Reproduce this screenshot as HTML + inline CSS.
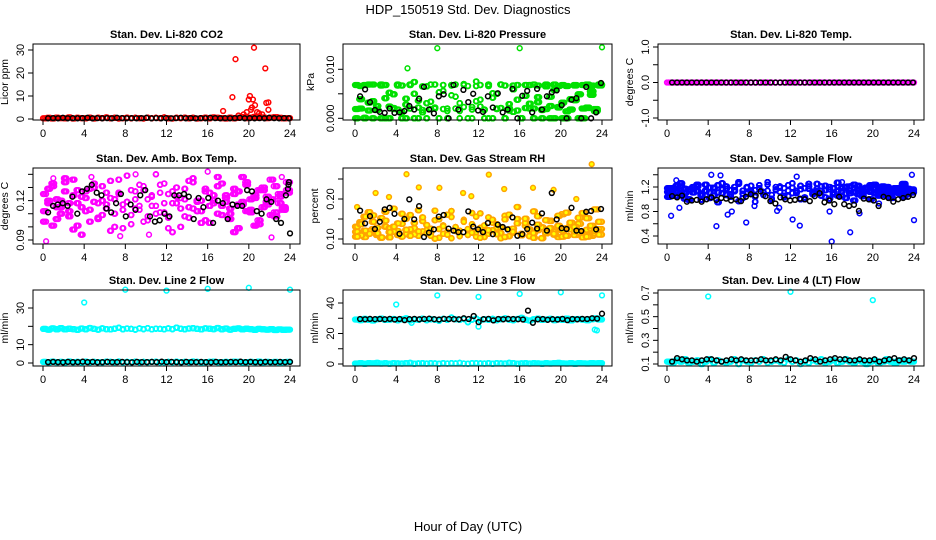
<!DOCTYPE html>
<html><head><meta charset="utf-8"><style>
html,body{margin:0;padding:0;background:#fff}
svg{display:block;font-family:"Liberation Sans",sans-serif}
</style></head><body>
<svg id="chart" width="936" height="540" viewBox="0 0 936 540" xmlns="http://www.w3.org/2000/svg">
<text x="468" y="14" text-anchor="middle" font-size="13">HDP_150519  Std. Dev. Diagnostics</text>
<text x="468" y="531" text-anchor="middle" font-size="13">Hour of Day (UTC)</text>
</svg>
<script>
// ---------- DATA ----------
const xTicks=[0,4,8,12,16,20,24];
// P1 CO2 (ppm)
const co2Red=[0.3,0.5,0.2,0.6,0.4,0.3,0.7,0.2,0.5,0.4,0.3,0.6,0.2,0.5,0.4,0.7,0.3,0.5,0.2,0.4,0.6,0.3,0.5,0.4,0.2,0.6,0.3,0.5,0.4,0.7,0.3,0.2,0.5,0.4,0.6,0.3,0.5,0.2,0.4,0.6,0.3,0.7,0.5,0.4,0.2,0.6,0.3,0.5,0.8,0.4,0.6,0.9,0.5,0.7,0.4,0.6,0.8,0.5,0.3,0.4];
const co2RedSpikeT=[17.5,18.4,18.7,19.0,19.5,19.8,20.0,20.1,20.2,20.3,20.4,20.5,20.6,20.8,21.0,21.3,21.6,21.7,21.9,21.9];
const co2RedSpikeV=[3.5,9.5,26,1.5,2,3,8.5,10,4,5,8.5,31,6,3,2.5,2,22,7,7.2,4];
const co2Black=[0.3,0.4,0.3,0.5,0.3,0.4,0.3,0.4,0.5,0.3,0.4,0.3,0.4,0.3,0.5,0.4,0.3,0.4,0.3,0.4,0.5,0.3,0.4,0.3,0.4,0.3,0.4,0.5,0.3,0.4,0.3,0.4,0.3,0.5,0.4,0.3,0.4,0.3,0.4,0.5,0.3,0.4,0.3,0.4,0.3,0.5,0.4,0.3,0.4,0.3];
// P2 Pressure (1e-3 kPa)
const presG1=[6.8,2.0,0.1,6.9,3.5,1.8,6.7,0.0,5.2,2.1,6.9,1.2,4.0,6.8,0.0,2.2,6.5,3.1,1.9,6.9,0.0,5.6,2.0,6.8,4.4,1.5,7.0,0.0,2.3,6.6,3.8,1.7,6.9,0.0,5.0,2.1,6.7,2.9,1.3,6.8,0.0,4.6,2.0,6.9,3.3,1.8,6.5,0.0,5.8,2.2,6.8,1.4,3.9,6.7,0.0,2.0,6.9,4.8,1.6,6.8];
const presG2=[1.9,6.6,0.0,3.2,6.9,1.7,0.0,6.8,2.4,4.9,1.8,6.7,0.0,2.0,7.4,3.6,1.2,0.0,6.9,2.2,5.3,1.9,0.0,6.7,2.0,3.1,6.8,0.0,1.8,7.5,2.4,0.0,6.6,4.2,1.9,6.9,0.0,2.1,5.9,1.6,0.0,6.8,3.0,2.0,6.7,0.0,1.9,4.4,6.9,2.3,0.0,6.6,1.8,3.7,0.0,6.8,2.1,5.5,1.9,6.7];
const presG3=[0.0,3.9,6.8,1.6,0.0,2.5,6.9,4.1,0.0,1.9,6.7,0.0,2.8,6.9,5.0,0.0,1.7,6.5,3.4,2.0,0.0,6.8,1.5,4.7,6.9,0.0,2.3,6.6,0.0,3.5,6.8,1.8,0.0,5.1,2.0,6.9,0.0,1.6,6.7,3.8,0.0,2.1,6.8,0.0,4.3,1.7,6.9,2.5,0.0,6.6,3.2,0.0,1.8,6.8,4.9,0.0,2.2,6.7,1.5,6.9];
const presOutT=[5.1,8.0,16.0,24.0];
const presOutV=[10.2,14.3,14.3,14.5];
const presBlack=[4.5,5.9,3.3,1.7,1.3,1.1,2.0,1.1,1.2,1.5,2.5,1.8,4.0,6.4,1.8,1.0,4.5,4.9,0.0,6.8,1.8,5.8,3.3,5.0,1.6,1.3,4.5,2.2,5.1,1.2,1.8,6.0,0.0,4.6,5.6,1.2,6.0,1.8,4.5,5.3,5.7,2.7,0.0,3.8,4.1,0.0,6.4,0.0,1.2,7.2];
// P3 Temp (C)
const tempMag=[0,0,0,0,0,0,0,0,0,0,0,0,0,0,0,0,0,0,0,0,0,0,0,0,0,0,0,0,0,0,0,0,0,0,0,0,0,0,0,0,0,0,0,0,0,0,0,0,0,0,0,0,0,0,0,0,0,0,0,0];
const tempBlack=[0,0,0,0,0,0,0,0,0,0,0,0,0,0,0,0,0,0,0,0,0,0,0,0,0,0,0,0,0,0,0,0,0,0,0,0,0,0,0,0,0,0,0,0,0,0,0,0,0,0];
// P4 Amb box temp (1e-3 C)
const ambM1=[125,118,131,106,120,137,112,98,128,115,122,104,133,118,109,126,97,121,136,113,119,102,127,116,131,108,123,140,111,118,125,96,130,114,121,107,134,119,112,127,103,120,138,116,124,110,129,99,117,132,113,122,105,128,119,136,111,123,115,126];
const ambM2=[112,129,101,121,115,134,108,124,118,94,127,113,130,106,120,117,135,110,125,99,119,128,114,132,104,121,116,110,126,133,107,118,123,100,129,115,137,112,120,105,126,118,131,109,122,114,96,127,119,134,111,124,102,130,117,121,108,125,113,128];
const ambM3=[104,120,133,115,110,127,118,136,101,123,112,129,119,107,131,114,122,100,126,117,139,109,121,113,128,105,124,116,132,111,99,127,118,122,108,135,114,120,103,129,116,124,110,133,119,106,125,117,138,112,121,101,128,115,123,109,131,118,114,134];
const ambOutT=[0.3,9.0,16.0,22.2,7.5,10.3,4.7,1.0,23.2];
const ambOutV=[89,140,142,92,93,94,138,137,138];
const ambBlack=[111,116,117,118,116,123,110,127,129,132,126,124,114,111,118,125,108,117,113,124,128,108,104,105,110,108,124,124,125,123,106,122,115,122,103,120,118,106,117,116,116,128,127,112,110,121,119,106,103,124];
const ambBlackExT=[23.8,23.9,23.85,24.0];
const ambBlackExV=[129,134,132,95];
// P5 Gas stream RH (1e-3 percent)
const rhO1=[118,142,105,167,125,110,152,131,104,176,120,138,112,160,127,108,145,122,115,171,103,134,118,155,126,109,148,121,137,106,164,119,113,141,128,102,158,124,116,150,111,133,107,169,122,129,114,146,119,105,162,127,135,110,153,117,123,108,174,125];
const rhO2=[131,109,156,120,143,114,103,168,127,118,139,106,151,124,112,172,119,135,108,147,125,113,161,102,130,121,144,110,165,117,128,105,154,122,137,115,149,107,126,180,113,140,120,103,157,129,116,145,111,133,106,166,124,119,138,104,152,127,114,143];
const rhO3=[106,137,121,113,159,128,104,146,117,131,110,163,123,108,140,119,154,114,126,101,149,132,111,170,120,107,143,125,116,156,103,134,122,148,112,129,105,161,118,139,109,151,124,115,136,102,147,127,113,158,121,108,141,130,117,165,106,133,120,111];
const rhOutT=[5.0,13.0,23.0,2.0,10.5,14.5,17.3,19.3,6.2,3.3,11.3,8.2,0.2,21.5];
const rhOutV=[262,261,287,215,215,225,228,223,229,205,207,228,180,200];
const rhBlack=[171,139,157,125,143,174,178,163,113,150,199,149,182,105,116,124,156,160,126,121,117,117,169,131,124,117,140,112,136,130,124,154,108,112,125,141,126,164,121,215,149,127,125,178,121,120,168,170,124,175];
// P6 Sample flow (1e-2 ml/min)
const sfB1=[112,118,105,121,110,99,116,124,108,113,102,119,111,126,107,115,120,97,114,109,122,104,117,112,128,101,115,119,106,123,110,114,100,118,125,108,113,121,103,116,111,127,105,119,114,98,122,109,117,112,124,106,115,120,102,118,110,125,113,116];
const sfB2=[104,115,122,109,117,100,120,113,106,124,111,118,95,116,121,108,113,125,102,119,110,115,123,107,114,99,120,112,118,105,126,111,116,103,121,109,117,114,122,101,118,106,113,120,110,124,108,115,119,100,117,112,121,107,116,111,118,123,109,114];
const sfB3=[118,108,113,126,101,116,111,121,99,114,119,106,123,110,117,104,115,128,109,120,113,96,118,111,124,107,116,121,103,114,119,110,122,100,117,112,125,106,115,120,108,113,118,102,121,111,116,105,119,123,110,114,107,120,115,112,118,104,117,111];
const sfOutT=[0.4,1.2,4.3,5.2,4.8,5.9,6.3,7.7,10.7,12.6,12.2,12.9,16.0,17.8,18.7,23.8,24.0,17.0,17.5,0.9,3.0,8.5,20.6,15.8,10.9];
const sfOutV=[73,86,140,139,56,75,80,62,81,137,67,57,31,46,77,140,66,128,121,131,114,89,93,80,86];
const sfBlack=[105,103,106,96,98,99,96,100,103,99,102,101,98,100,97,104,108,106,113,105,97,93,103,100,98,99,101,100,97,105,110,95,98,92,104,92,89,91,81,101,100,98,89,104,102,96,100,102,104,107];
// P7 Line 2 flow (ml/min)
const l2High=[18.6,18.2,18.9,18.4,19.0,18.3,18.7,18.5,18.1,18.8,18.4,19.1,18.6,18.2,18.9,18.5,18.3,18.7,19.2,18.4,18.8,18.6,18.2,18.9,18.5,19.0,18.3,18.7,18.6,18.4,18.9,18.5,19.3,18.7,18.4,18.8,19.0,18.6,18.3,18.9,18.7,18.5,19.1,18.4,18.8,18.2,18.6,18.9,18.3,18.7,18.5,18.1,18.6,18.4,18.2,18.5,18.0,18.3,18.1,18.2];
const l2Low=[0.6,0.4,0.7,0.5,0.6,0.4,0.8,0.5,0.6,0.4,0.7,0.5,0.6,0.5,0.4,0.7,0.6,0.5,0.8,0.4,0.6,0.5,0.7,0.4,0.6,0.5,0.6,0.7,0.4,0.5,0.6,0.5,0.7,0.4,0.6,0.5,0.8,0.6,0.4,0.5,0.6,0.7,0.5,0.4,0.6,0.5,0.7,0.6,0.4,0.5,0.6,0.5,0.7,0.4,0.6,0.5,0.6,0.4,0.5,0.6];
const l2OutT=[4.0,8.0,12.0,16.0,20.0,24.0];
const l2OutV=[33,40,39.5,40.5,41,40];
const l2Black=[0.5,0.6,0.5,0.4,0.6,0.5,0.5,0.7,0.5,0.6,0.4,0.5,0.6,0.5,0.5,0.6,0.5,0.4,0.6,0.5,0.5,0.6,0.5,0.7,0.5,0.6,0.5,0.4,0.6,0.5,0.5,0.6,0.5,0.4,0.6,0.5,0.5,0.6,0.5,0.7,0.5,0.6,0.5,0.4,0.6,0.5,0.5,0.6,0.5,0.6];
// P8 Line 3 flow (ml/min)
const l3High=[29.2,28.8,29.6,29.0,28.5,29.4,29.8,28.9,29.1,29.5,28.7,29.3,29.9,28.6,29.2,29.0,29.7,28.8,29.4,29.1,28.4,29.6,29.0,30.5,29.3,28.9,29.5,27.5,29.1,29.8,28.6,29.3,29.0,29.6,28.8,29.4,29.9,29.1,28.7,29.5,30.2,29.0,28.5,29.3,29.7,28.9,29.2,29.6,28.8,29.4,29.0,29.8,28.6,29.3,29.5,29.1,28.7,29.4,29.9,29.2];
const l3Low=[0.3,0.6,0.2,0.5,0.4,0.7,0.3,0.5,0.2,0.6,0.4,0.3,0.5,0.7,0.2,0.4,0.6,0.3,0.5,0.4,0.2,0.6,0.3,0.5,0.4,0.7,0.3,0.2,0.5,0.6,0.4,0.3,0.5,0.2,0.6,0.4,0.3,0.7,0.5,0.2,0.4,0.6,0.3,0.5,0.4,0.2,0.6,0.3,0.5,0.7,0.4,0.3,0.5,0.2,0.6,0.4,0.3,0.5,0.4,0.6];
const l3OutT=[4.0,8.0,12.0,16.0,20.0,24.0,23.3,23.5,12.0,5.5];
const l3OutV=[39,45,44,46,47,45,22.5,22,24.5,27];
const l3Black=[29.5,29.3,29.6,29.4,29.5,29.3,29.6,29.2,29.5,28.8,29.4,29.6,29.3,29.5,29.7,29.4,29.2,29.6,29.5,29.4,29.3,30.0,29.5,31.5,27.5,29.4,29.6,28.6,29.5,29.3,29.6,29.5,29.4,29.2,35,27,29.3,29.5,29.0,29.4,29.2,29.6,28.8,29.5,29.3,29.6,29.5,30.0,29.8,33];
// P9 Line 4 flow (ml/min)
const l4Cyan=[0.12,0.11,0.13,0.12,0.14,0.11,0.12,0.13,0.10,0.12,0.14,0.11,0.13,0.12,0.11,0.12,0.14,0.10,0.13,0.12,0.11,0.13,0.12,0.14,0.11,0.12,0.13,0.12,0.11,0.14,0.12,0.13,0.10,0.12,0.11,0.13,0.12,0.14,0.11,0.12,0.13,0.11,0.12,0.14,0.12,0.11,0.13,0.12,0.10,0.12,0.13,0.11,0.12,0.14,0.12,0.11,0.13,0.12,0.13,0.12];
const l4OutT=[4.0,12.0,20.0];
const l4OutV=[0.67,0.71,0.64];
const l4Black=[0.12,0.15,0.14,0.13,0.13,0.12,0.13,0.14,0.14,0.13,0.12,0.13,0.14,0.13,0.14,0.13,0.13,0.13,0.14,0.13,0.13,0.14,0.13,0.16,0.14,0.13,0.12,0.13,0.15,0.14,0.12,0.13,0.14,0.15,0.14,0.14,0.13,0.13,0.14,0.13,0.13,0.14,0.12,0.13,0.14,0.15,0.13,0.14,0.13,0.15];

// ---------- DRAW ----------
const svg=document.getElementById('chart');
const NS='http://www.w3.org/2000/svg';
function mk(tag,attrs,parent){const e=document.createElementNS(NS,tag);for(const k in attrs)e.setAttribute(k,attrs[k]);(parent||svg).appendChild(e);return e;}
function evenTimes(n,t0,t1){const a=[];for(let i=0;i<n;i++)a.push(n>1?t0+(t1-t0)*i/(n-1):t0);return a;}
// time windows used to lay dense clouds (several passes of the same readings)
const densePasses=[[0,24],[0.15,23.8],[0.3,23.6],[0.08,23.9],[0.22,23.7]];

function makePanel(p){
  const g=mk('g',{});
  
  
  const xs=t=>p.x0+(p.x24-p.x0)*t/24;
  const ys=v=>p.yp1+(v-p.yv1)*(p.yp2-p.yp1)/(p.yv2-p.yv1);
  const plotG=mk('g',{},g);
  
  
  function pts(ts,vs,color,fill,nm){
    for(let i=0;i<vs.length;i++){
      const c=mk('circle',{cx:xs(ts[i]).toFixed(1),cy:ys(vs[i]).toFixed(1),r:2.4,fill:fill||'none',stroke:color,'stroke-width':1.5},plotG);
      
      
    }
  }
  p.series.forEach(s=>{
    if(s.t){pts(s.t,s.v,s.c,s.f,s.n);return;}
    if(s.dense){
      densePasses.slice(0,s.dense).forEach(w=>pts(evenTimes(s.v.length,w[0],w[1]),s.v,s.c,s.f,s.n));
      return;
    }
    pts(evenTimes(s.v.length,s.t0,s.t1),s.v,s.c,s.f,s.n);
  });
  const box=mk('rect',{x:p.bx0,y:p.by0,width:p.bx1-p.bx0,height:p.by1-p.by0,fill:'none',stroke:'#000','stroke-width':1},g);
  
  
  xTicks.forEach(t=>{
    const x=xs(t);
    const tk=mk('line',{x1:x,x2:x,y1:p.by1,y2:p.by1+5,stroke:'#000'},g);
    
    
    const lb=mk('text',{x:x,y:p.by1+17,'text-anchor':'middle','font-size':11},g);
    
    
    lb.textContent=t;
  });
  p.yt.forEach((v,i)=>{
    const y=ys(v);
    const tk=mk('line',{x1:p.bx0-5,x2:p.bx0,y1:y,y2:y,stroke:'#000'},g);
    
    
    if(p.yl[i]){
      const lb=mk('text',{x:0,y:0,'text-anchor':'middle','font-size':11,transform:`translate(${p.bx0-9},${y}) rotate(-90)`},g);
      
      
      lb.textContent=p.yl[i];
    }
  });
  const yt=mk('text',{x:0,y:0,'text-anchor':'middle','font-size':10.5,transform:`translate(${p.bx0-(p.ylOff||25)},${(p.by0+p.by1)/2}) rotate(-90)`},g);
  
  
  yt.textContent=p.ytitle;
  const ti=mk('text',{x:(p.bx0+p.bx1)/2,y:p.by0-6,'text-anchor':'middle','font-size':11,'font-weight':'bold'},g);
  
  
  ti.textContent=p.title;
}

const R='#ff0000',K='#000000',G='#00e000',M='#ff00ff',O='#ffa500',Y='#ffff00',B='#0000ff',C='#00ffff';
const r1={by0:44,by1:120},r2={by0:168,by1:244},r3={by0:290,by1:366};
const c1={bx0:33,bx1:300,x0:43,x24:290},c2={bx0:343,bx1:612,x0:355,x24:602},c3={bx0:658,bx1:924,x0:667,x24:914};

makePanel(Object.assign({name:'panel-co2',title:'Stan. Dev. Li-820 CO2',ytitle:'Licor ppm',yv1:0,yp1:119,yv2:30,yp2:50,yt:[0,10,20,30],yl:['0','10','20','30'],series:[
  {v:co2Red,dense:3,c:R,n:'co2-red-point'},{t:co2RedSpikeT,v:co2RedSpikeV,c:R,n:'co2-red-point'},{v:co2Black,t0:0.5,t1:23.9,c:K,n:'co2-black-point'}]},r1,c1));
makePanel(Object.assign({name:'panel-pressure',title:'Stan. Dev. Li-820 Pressure',ytitle:'kPa',ylOff:29,yv1:0,yp1:118.3,yv2:10,yp2:69.3,yt:[0,5,10],yl:['0.000','','0.010'],series:[
  {v:presG1,dense:5,c:G,n:'pressure-green-point'},{v:presG2,dense:5,c:G,n:'pressure-green-point'},{v:presG3,dense:5,c:G,n:'pressure-green-point'},{t:presOutT,v:presOutV,c:G,n:'pressure-green-point'},{v:presBlack,t0:0.5,t1:23.9,c:K,n:'pressure-black-point'}]},r1,c2));
makePanel(Object.assign({name:'panel-temp',title:'Stan. Dev. Li-820 Temp.',ytitle:'degrees C',yv1:-1,yp1:118,yv2:1,yp2:47,yt:[-1,-0.5,0,0.5,1],yl:['-1.0','','0.0','','1.0'],series:[
  {v:tempMag,dense:3,c:M,n:'temp-magenta-point'},{v:tempBlack,t0:0.5,t1:23.9,c:K,n:'temp-black-point'}]},r1,c3));
makePanel(Object.assign({name:'panel-ambbox',title:'Stan. Dev. Amb. Box Temp.',ytitle:'degrees C',yv1:90,yp1:240,yv2:120,yp2:200.6,yt:[90,100,110,120,130,140],yl:['0.09','','','0.12','',''],series:[
  {v:ambM1,dense:4,c:M,n:'ambbox-magenta-point'},{v:ambM2,dense:4,c:M,n:'ambbox-magenta-point'},{v:ambM3,dense:4,c:M,n:'ambbox-magenta-point'},{t:ambOutT,v:ambOutV,c:M,n:'ambbox-magenta-point'},{v:ambBlack,t0:0.5,t1:23.6,c:K,n:'ambbox-black-point'},{t:ambBlackExT,v:ambBlackExV,c:K,n:'ambbox-black-point'}]},r2,c1));
makePanel(Object.assign({name:'panel-rh',title:'Stan. Dev. Gas Stream RH',ytitle:'percent',yv1:100,yp1:239,yv2:200,yp2:199,yt:[100,150,200,250],yl:['0.10','','0.20',''],series:[
  {v:rhO1,dense:5,c:O,f:Y,n:'rh-orange-point'},{v:rhO2,dense:5,c:O,f:Y,n:'rh-orange-point'},{v:rhO3,dense:5,c:O,f:Y,n:'rh-orange-point'},{t:rhOutT,v:rhOutV,c:O,f:Y,n:'rh-orange-point'},{v:rhBlack,t0:0.5,t1:23.9,c:K,n:'rh-black-point'}]},r2,c2));
makePanel(Object.assign({name:'panel-sampleflow',title:'Stan. Dev. Sample Flow',ytitle:'ml/min',yv1:40,yp1:236,yv2:120,yp2:187,yt:[40,60,80,100,120,140],yl:['0.4','','0.8','','1.2',''],series:[
  {v:sfB1,dense:5,c:B,n:'sampleflow-blue-point'},{v:sfB2,dense:5,c:B,n:'sampleflow-blue-point'},{v:sfB3,dense:5,c:B,n:'sampleflow-blue-point'},{t:sfOutT,v:sfOutV,c:B,n:'sampleflow-blue-point'},{v:sfBlack,t0:0.5,t1:23.9,c:K,n:'sampleflow-black-point'}]},r2,c3));
makePanel(Object.assign({name:'panel-line2',title:'Stan. Dev. Line 2 Flow',ytitle:'ml/min',yv1:0,yp1:363,yv2:30,yp2:308,yt:[0,10,20,30],yl:['0','10','','30'],series:[
  {v:l2High,dense:5,c:C,n:'line2-cyan-point'},{v:l2Low,dense:5,c:C,n:'line2-cyan-point'},{t:l2OutT,v:l2OutV,c:C,n:'line2-cyan-point'},{v:l2Black,t0:0.5,t1:24,c:K,n:'line2-black-point'}]},r3,c1));
makePanel(Object.assign({name:'panel-line3',title:'Stan. Dev. Line 3 Flow',ytitle:'ml/min',yv1:0,yp1:364,yv2:40,yp2:303,yt:[0,10,20,30,40],yl:['0','','20','','40'],series:[
  {v:l3High,dense:5,c:C,n:'line3-cyan-point'},{v:l3Low,dense:5,c:C,n:'line3-cyan-point'},{t:l3OutT,v:l3OutV,c:C,n:'line3-cyan-point'},{v:l3Black,t0:0.5,t1:24,c:K,n:'line3-black-point'}]},r3,c2));
makePanel(Object.assign({name:'panel-line4',title:'Stan. Dev. Line 4 (LT) Flow',ytitle:'ml/min',yv1:0.1,yp1:364,yv2:0.7,yp2:293,yt:[0.1,0.2,0.3,0.4,0.5,0.6,0.7],yl:['0.1','','0.3','','0.5','','0.7'],series:[
  {v:l4Cyan,dense:5,c:C,n:'line4-cyan-point'},{t:l4OutT,v:l4OutV,c:C,n:'line4-cyan-point'},{v:l4Black,t0:0.5,t1:24,c:K,n:'line4-black-point'}]},r3,c3));
</script>
</body></html>
